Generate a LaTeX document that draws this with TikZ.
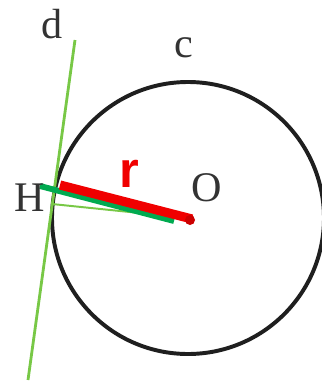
\documentclass[tikz,border=0pt]{standalone}
\usepackage{fontspec}
\setmainfont{Liberation Serif}
\newfontfamily\labsans{Liberation Sans}
\usepackage{xcolor}
\usetikzlibrary{positioning}
\definecolor{lightgr}{RGB}{120,200,70}
\definecolor{darkgr}{RGB}{0,170,80}
\definecolor{redr}{RGB}{240,0,0}

\begin{document}
\begin{tikzpicture}[x=0.025cm,y=-0.025cm,every node/.style={inner sep=0pt,font=\fontsize{30}{36}\selectfont,text=black!80}]
  \useasboundingbox (0,0) rectangle (322,382);
  \clip (0,0) rectangle (322,382);
  \coordinate (O) at (188,218); \coordinate (H) at (52,204);
  \coordinate (dtop) at (75,40); \coordinate (dbot) at (28,380);
  \coordinate (ga) at (40,186); \coordinate (gb) at (174,221);
  \coordinate (ra) at (60,185); \coordinate (rb) at (192,219);
  \draw[black!88,line width=2.8pt] (O) circle (136);
  \begin{scope}[every path/.style={draw,lightgr}]
    \draw[line width=2pt] (dtop)--(dbot);
    \draw[line width=1.4pt] (H)--(O);
  \end{scope}
  \draw[darkgr,line width=4.2pt] (ga)--(gb);
  \draw[redr,line width=6.5pt] (ra)--(rb);
  \fill[redr!85!black] (190,220) circle (5);
  \node (dlab) at (52,24) {d};
  \node (clab) at (184,48) {c};
  \node (Hlab) at (30,198) {H};
  \node (Olab) at (207,188) {O};
  \node[font=\labsans\bfseries\fontsize{36}{40}\selectfont,text=redr] (rlab) at (129,174) {r};
\end{tikzpicture}
\end{document}
